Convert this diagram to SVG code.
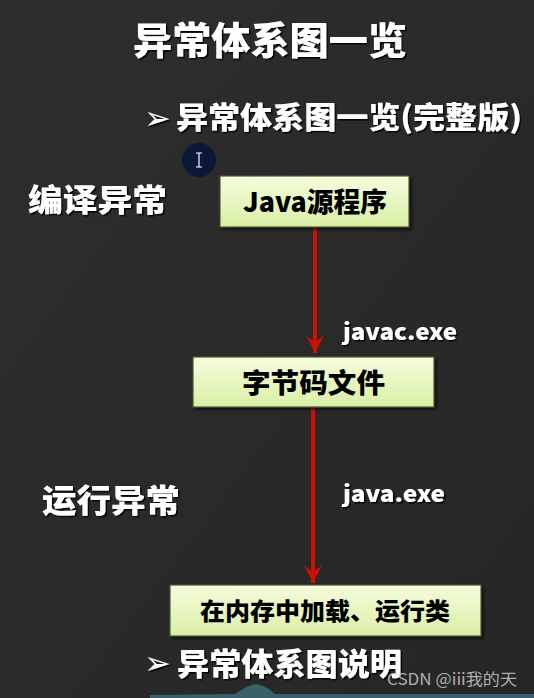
<svg xmlns="http://www.w3.org/2000/svg" width="534" height="698" viewBox="0 0 534 698">
  <defs>
    <linearGradient id="bg" x1="0" y1="0" x2="1" y2="1">
      <stop offset="0" stop-color="#2e2e2e"/>
      <stop offset="0.5" stop-color="#2a2a2a"/>
      <stop offset="1" stop-color="#262626"/>
    </linearGradient>
    <linearGradient id="boxfill" x1="0" y1="0" x2="0" y2="1">
      <stop offset="0" stop-color="#f6fcdc"/>
      <stop offset="1" stop-color="#d9efa6"/>
    </linearGradient>
    <filter id="ts" x="-10%" y="-20%" width="120%" height="150%">
      <feDropShadow dx="1.5" dy="1.5" stdDeviation="0.6" flood-color="#000" flood-opacity="0.9"/>
    </filter>
    <filter id="bs" x="-5%" y="-10%" width="115%" height="130%">
      <feDropShadow dx="2" dy="2" stdDeviation="1.5" flood-color="#000" flood-opacity="0.7"/>
    </filter>
    <marker id="ah" viewBox="0 0 20 20" refX="18" refY="10" markerWidth="22" markerHeight="22" markerUnits="userSpaceOnUse" orient="auto">
      <path d="M2,2 L18,10 L2,18 L8,10 Z" fill="#cc1100"/>
    </marker>
  </defs>
  <style>
    .w { fill: #ffffff; font-family: "Noto Sans CJK SC", "Liberation Sans", sans-serif; font-weight: 900; filter: url(#ts); }
    .b { fill: #000000; font-family: "Noto Sans CJK SC", "Liberation Sans", sans-serif; font-weight: 900; }
    .box { fill: url(#boxfill); stroke: #4a5530; stroke-width: 1.2; filter: url(#bs); }
    .conn { stroke: #cc1100; stroke-width: 4; fill: none; }
    .bul { fill: #ffffff; font-family: "DejaVu Sans", sans-serif; font-weight: 700; filter: url(#ts); }
  </style>
  <rect x="0" y="0" width="534" height="698" fill="url(#bg)"/>
  <path d="M150,698 L150,695 L235,694 Q250,684 257,684 Q266,686 275,694 L534,694 L534,698 Z" fill="#3c6670" opacity="0.9"/>

  <g id="title">
    <text class="w" x="133" y="54" font-size="38" textLength="274" lengthAdjust="spacingAndGlyphs">异常体系图一览</text>
  </g>
  <g id="subtitle">
    <text class="bul" x="144" y="129" font-size="32">➢</text>
    <text class="w" x="176" y="128" font-size="30" textLength="346" lengthAdjust="spacingAndGlyphs">异常体系图一览(完整版)</text>
  </g>
  <g id="cursor">
    <circle cx="199" cy="160" r="17" fill="#0b1838"/>
    <path d="M196,153 L202,153 M199,153 L199,167 M196,167 L202,167" stroke="#ffffff" stroke-width="1.2" fill="none"/>
  </g>
  <g id="label-compile">
    <text class="w" x="28" y="211" font-size="31" textLength="139" lengthAdjust="spacingAndGlyphs">编译异常</text>
  </g>
  <g id="label-run">
    <text class="w" x="42" y="512" font-size="32" textLength="138" lengthAdjust="spacingAndGlyphs">运行异常</text>
  </g>

  <g id="connectors">
    <line class="conn" x1="315" y1="227" x2="315" y2="353" marker-end="url(#ah)"/>
    <line class="conn" x1="313" y1="407" x2="313" y2="583" marker-end="url(#ah)"/>
    <text class="w" x="343" y="340" font-size="22" textLength="114" lengthAdjust="spacingAndGlyphs">javac.exe</text>
    <text class="w" x="343" y="502" font-size="22" textLength="102" lengthAdjust="spacingAndGlyphs">java.exe</text>
  </g>

  <g id="node-source">
    <rect class="box" x="220" y="176" width="189" height="51"/>
    <text class="b" x="243" y="212" font-size="27" textLength="144" lengthAdjust="spacingAndGlyphs">Java源程序</text>
  </g>
  <g id="node-bytecode">
    <rect class="box" x="193" y="357" width="241" height="50"/>
    <text class="b" x="242" y="393" font-size="27" textLength="143" lengthAdjust="spacingAndGlyphs">字节码文件</text>
  </g>
  <g id="node-load">
    <rect class="box" x="170" y="585" width="311" height="51"/>
    <text class="b" x="200" y="620" font-size="24" textLength="250" lengthAdjust="spacingAndGlyphs">在内存中加载、运行类</text>
  </g>

  <g id="footer">
    <text class="bul" x="144" y="674" font-size="32">➢</text>
    <text class="w" x="177" y="675" font-size="31" textLength="225" lengthAdjust="spacingAndGlyphs">异常体系图说明</text>
    <text x="387" y="685" font-size="16" fill="#c8c8c8" fill-opacity="0.85" font-family="'Noto Sans CJK SC', 'Liberation Sans', sans-serif" textLength="130" lengthAdjust="spacingAndGlyphs">CSDN @iii我的天</text>
  </g>
</svg>
